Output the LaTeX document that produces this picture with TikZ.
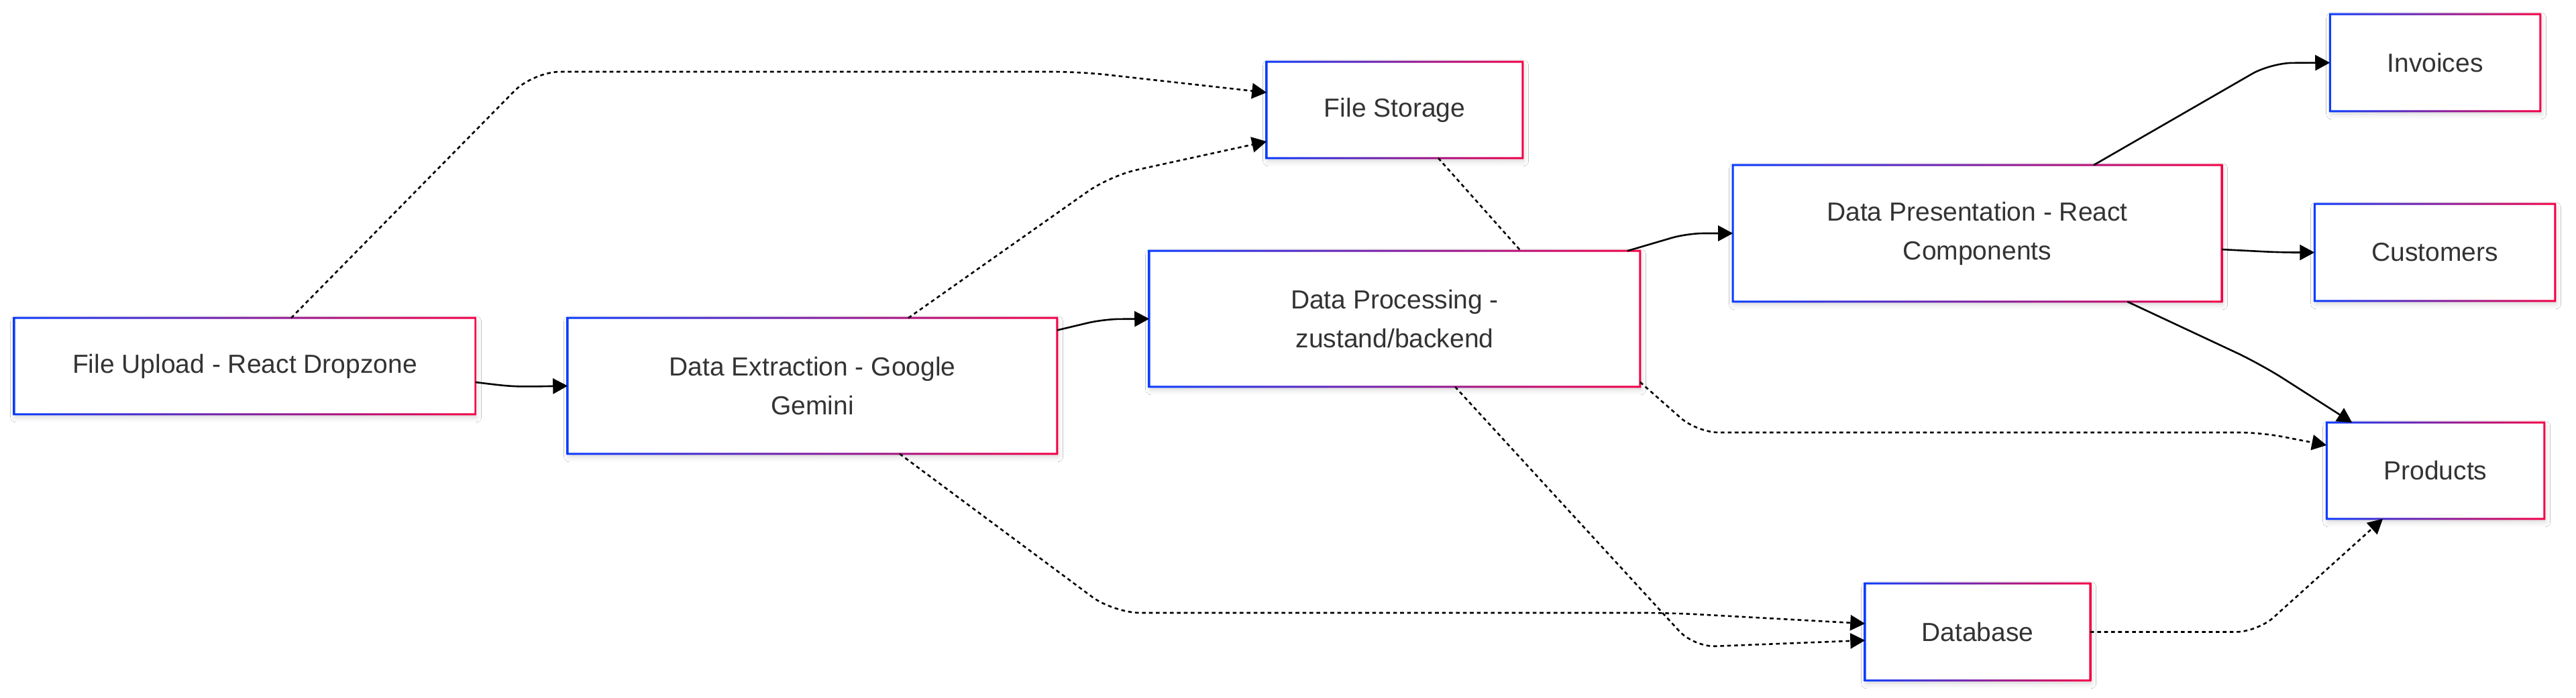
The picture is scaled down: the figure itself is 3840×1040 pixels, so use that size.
\documentclass[tikz,border=0pt]{standalone}
\usepackage{fontspec}
\setmainfont{Liberation Sans}
\usetikzlibrary{arrows.meta,calc,shadows.blur}
\definecolor{cblue}{RGB}{10,60,255}
\definecolor{cred}{RGB}{245,0,70}
\definecolor{ctext}{RGB}{51,51,51}
\begin{document}
\begin{tikzpicture}[x=0.25pt,y=-0.25pt,
  box/.style={fill=white, inner sep=0pt, align=center, text=ctext,
    font=\fontsize{9.75pt}{14.5pt}\selectfont,
    blur shadow={shadow xshift=0.4pt, shadow yshift=-1.2pt, shadow blur radius=2pt, shadow opacity=18}},
  sz/.style 2 args={minimum width=#1*0.25pt, minimum height=#2*0.25pt},
  flow/.style={line width=0.65pt, -{Triangle[length=5.5pt,width=5.75pt]}, rounded corners=6pt},
  dflow/.style={flow, dash pattern=on 1.4pt off 1.2pt},
  link/.style={line width=0.65pt, dash pattern=on 1.4pt off 1.2pt}]
\fill[white] (0,0) rectangle (3840,1040);
\useasboundingbox (0,0) rectangle (3840,1040);

\node[box, sz={686}{142}] (up) at (365,546) {File Upload - React Dropzone};
\node[box, sz={728}{201}] (ex) at (1211,575.5) {Data Extraction - Google\\Gemini};
\node[box, sz={380}{142}] (fs) at (2079,164) {File Storage};
\node[box, sz={730}{201}] (pr) at (2079,475.5) {Data Processing -\\zustand/backend};
\node[box, sz={727}{202}] (dp) at (2947.5,348) {Data Presentation - React\\Components};
\node[box, sz={312}{143}] (inv) at (3630,93.5) {Invoices};
\node[box, sz={357}{143}] (cu) at (3629.5,376.5) {Customers};
\node[box, sz={323}{142}] (prod) at (3630.5,702) {Products};
\node[box, sz={334}{143}] (db) at (2948,942.5) {Database};

\foreach \n in {up,ex,fs,pr,dp,inv,cu,prod,db}{
  \shade[left color=cblue,right color=cred,even odd rule]
    ($(\n.north west)+(-1.5,-1.5)$) rectangle ($(\n.south east)+(1.5,1.5)$)
    ($(\n.north west)+(1.5,1.5)$) rectangle ($(\n.south east)+(-1.5,-1.5)$);
}

\draw[flow] ($(up.east)+(0,24)$) .. controls (765,577) .. (ex.west);
\draw[dflow, rounded corners=10pt] ($(up.north)+(69,0)$) -- (795,107) -- (1610,107) -- ($(fs.west)+(0,-26)$);
\draw[dflow, rounded corners=10pt] ($(ex.north)+(143,0)$) -- (1655,262) -- ($(fs.west)+(0,47)$);
\draw[flow] ($(ex.east)+(0,-83)$) -- (1645,476) -- (pr.west);
\draw[dflow, rounded corners=10pt] ($(ex.south)+(130,0)$) -- (1660,914) -- (2490,914) -- ($(db.west)+(0,-12.5)$);
\draw[dflow, rounded corners=8pt] ($(pr.south)+(90,0)$) -- (2525,965) -- ($(db.west)+(0,12.5)$);
\draw[dflow, rounded corners=8pt] ($(pr.south east)+(0,-7)$) -- (2530,645) -- (3370,645) -- ($(prod.west)+(0,-38)$);
\draw[link] ($(fs.south)+(65,0)$) -- ($(pr.north)+(188,0)$);
\draw[flow] ($(pr.north east)+(-19,0)$) -- (2515,348) -- (dp.west);
\draw[flow, rounded corners=8pt] ($(dp.north)+(173.5,0)$) -- (3385,94) -- (inv.west);
\draw[flow] ($(dp.east)+(0,24)$) -- (3400,376.5) -- (cu.west);
\draw[flow, rounded corners=10pt] ($(dp.south)+(223.5,0)$) -- (3370,543) -- ($(prod.north west)+(38,0)$);
\draw[dflow, rounded corners=8pt] (db.east) -- (3365,942.5) -- ($(prod.south)+(-78.5,0)$);
\end{tikzpicture}
\end{document}
